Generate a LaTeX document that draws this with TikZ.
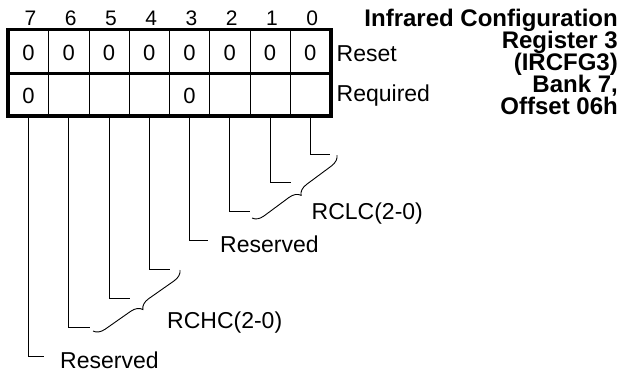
\documentclass[tikz,border=0pt]{standalone}
\usepackage{fontspec}
\setmainfont{Liberation Sans}
\usetikzlibrary{decorations.pathreplacing,calc}
\begin{document}
\begin{tikzpicture}[x=1pt,y=-1pt,
  cell/.style={draw, line width=0.9pt, minimum width=40.25pt, minimum height=#1, inner sep=0pt, anchor=north west},
  val/.style={font=\fontsize{22}{26}\selectfont, inner sep=0pt, anchor=base},
  bitnum/.style={font=\fontsize{21}{24}\selectfont, inner sep=0pt, anchor=base},
  lbl/.style={font=\fontsize{23}{26}\selectfont, inner sep=0pt, anchor=base west},
  ttl/.style={font=\fontsize{24}{22}\selectfont\bfseries, inner sep=0pt, anchor=base east},
  conn/.style={line width=0.9pt},
  brc/.style={line width=0.9pt, decorate, decoration={brace, amplitude=11pt}},
  thickline/.style={line width=3.2pt},
]
\useasboundingbox (0,0) rectangle (623,375);
% cells
\foreach \i in {0,...,7}{
  \pgfmathtruncatemacro{\b}{7-\i}
  \node[cell=42.75pt] (a\b) at ({8+40.25*\i},29.5) {};
  \node[cell=42.75pt] (r\b) at ({8+40.25*\i},72.25) {};
  \node[bitnum] (n\b) at ($(a\b.north)+(2,-4.5)$) {\b};
  \node[val] (v\b) at ($(a\b.center)+(0,9.5)$) {0};
}
\node[val] (w7) at ($(r7.center)+(0,9.5)$) {0};
\node[val] (w3) at ($(r3.center)+(0,9.5)$) {0};
\draw[thickline] (a7.north west) rectangle (r0.south east);
\draw[thickline] (a7.south west) -- (a0.south east);
% labels to the right
\node[lbl] (reset) at (336.5,61.5) {Reset};
\node[lbl] (req) at (336.5,101) {Required};
% title
\node[ttl] (t1) at (618,26.5) {Infrared Configuration};
\node[ttl] (t2) at (618,48.5) {Register 3};
\node[ttl] (t3) at (618,70.5) {(IRCFG3)};
\node[ttl] (t4) at (618,92.5) {Bank 7,};
\node[ttl] (t5) at (618,114.5) {Offset 06h};
% connector ends
\coordinate (e0) at (330,154);
\coordinate (e1) at (290.5,182.7);
\coordinate (e2) at (250,211);
\coordinate (e3) at (208,240);
\coordinate (e4) at (170,269);
\coordinate (e5) at (130,298);
\coordinate (e6) at (90,327);
\coordinate (e7) at (43.5,356.7);
\foreach \b in {0,...,7}{
  \draw[conn] (r\b.south) |- (e\b);
}
% braces
\coordinate (bA) at (337,155);
\coordinate (bB) at (252,218);
\coordinate (cA) at (180,270);
\coordinate (cB) at (93,331);
\draw[brc] (bA) -- (bB);
\draw[brc] (cA) -- (cB);
% field labels
\node[lbl] (rclc) at (311.5,219.5) {RCLC(2-0)};
\node[lbl] (res3) at (220,252) {Reserved};
\node[lbl] (rchc) at (167,328.5) {RCHC(2-0)};
\node[lbl] (res7) at (60,368) {Reserved};
\end{tikzpicture}
\end{document}
